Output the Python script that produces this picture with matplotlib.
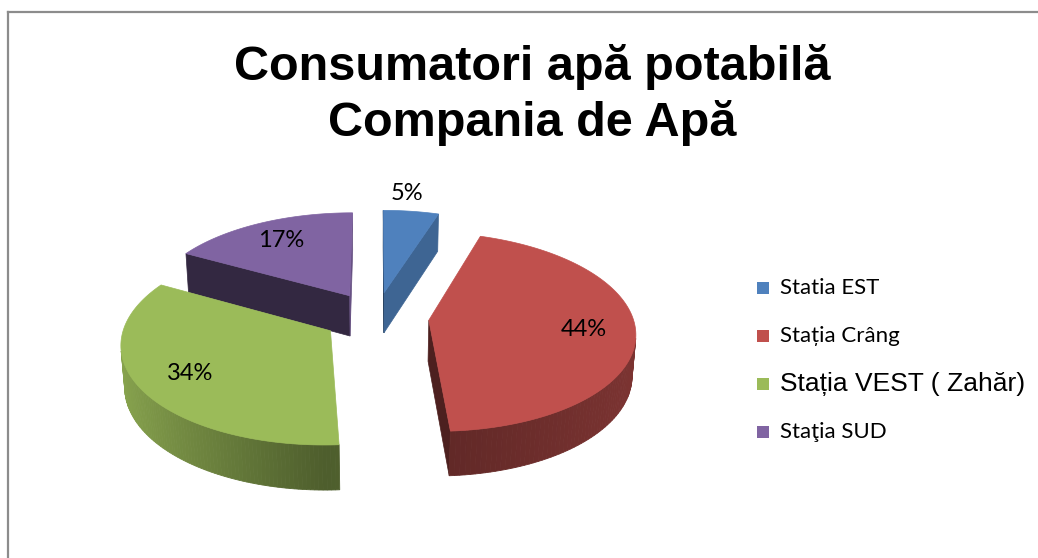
import numpy as np
import matplotlib
matplotlib.use('Agg')
import matplotlib.pyplot as plt
import matplotlib.colors as mcolors
from matplotlib.patches import Polygon, Rectangle
from matplotlib.lines import Line2D

# data
labels = ['Statia EST', 'Stația Crâng', 'Stația VEST ( Zahăr)', 'Staţia SUD']
values = [5, 44, 34, 17]
colors = ['#4F81BD', '#C0504D', '#9BBB59', '#8064A2']
title = 'Consumatori apă potabilă\nCompania de Apă'

# 3d look (tilt, camera distance, thickness, explosion)
EL = np.radians(28.5)
DIST = 7.5
H = 0.232
EXPLODE = 0.26
cam = np.array([0.0, -DIST * np.cos(EL), DIST * np.sin(EL)])


def project(x, y, z):
    depth = DIST + y * np.cos(EL) - z * np.sin(EL)
    k = DIST / depth
    return x * k, (y * np.sin(EL) + z * np.cos(EL)) * k


def shade(c, f):
    return tuple(np.clip(np.array(mcolors.to_rgb(c)) * f, 0, 1))


def visible(p, n):
    return np.dot(cam - np.array(p), np.array(n)) > 0


def quad(pts):
    return np.array([project(*p) for p in pts])


fig = plt.figure(figsize=(10.38, 5.58), dpi=100)
W, Hpx = 1038, 558

# pie axes, S px per unit radius
S = 204
x0, x1, y0, y1 = 90, 670, 160, 520
cx, cy = 376, 317
ax = fig.add_axes([x0 / W, 1 - y1 / Hpx, (x1 - x0) / W, (y1 - y0) / Hpx])
ax.set_xlim(-(cx - x0) / S, (x1 - cx) / S)
ax.set_ylim(-(y1 - cy) / S, (cy - y0) / S)
ax.axis('off')

total = sum(values)
start = 90.0
slices = []
for v, c in zip(values, colors):
    a1 = start
    a2 = start - v / total * 360
    start = a2
    mid = np.radians((a1 + a2) / 2)
    ox, oy = EXPLODE * np.cos(mid), EXPLODE * np.sin(mid)
    slices.append((a1, a2, mid, ox, oy, c, v))

# back to front
order = sorted(range(len(slices)), key=lambda i: -(slices[i][4] + 0.5 * np.sin(slices[i][2])))

for i in order:
    a1, a2, mid, ox, oy, c, v = slices[i]
    r1, r2 = np.radians(a1), np.radians(a2)
    # radial faces
    for r, n in [(r1, (-np.sin(r1), np.cos(r1), 0)), (r2, (np.sin(r2), -np.cos(r2), 0))]:
        if visible((ox, oy, -H / 2), n):
            f = 0.4 + 0.4 * max(0.0, n[0])
            pts = quad([(ox, oy, 0), (ox + np.cos(r), oy + np.sin(r), 0),
                        (ox + np.cos(r), oy + np.sin(r), -H), (ox, oy, -H)])
            ax.add_patch(Polygon(pts, closed=True, fc=shade(c, f), ec=shade(c, f), lw=0.5))
    # outer wall, shaded by direction
    t = np.radians(np.linspace(a1, a2, 120))
    for ta, tb in zip(t[:-1], t[1:]):
        tm = (ta + tb) / 2
        n = (np.cos(tm), np.sin(tm), 0)
        if not visible((ox + np.cos(tm), oy + np.sin(tm), -H / 2), n):
            continue
        ct = np.cos(tm)
        f = 0.5 + 0.38 * (-ct) if ct < 0 else 0.5 + 0.15 * ct
        pts = quad([(ox + np.cos(ta), oy + np.sin(ta), 0), (ox + np.cos(tb), oy + np.sin(tb), 0),
                    (ox + np.cos(tb), oy + np.sin(tb), -H), (ox + np.cos(ta), oy + np.sin(ta), -H)])
        ax.add_patch(Polygon(pts, closed=True, fc=shade(c, f), ec=shade(c, f), lw=0.6))
    # top face
    top = [(ox, oy, 0)] + [(ox + np.cos(a), oy + np.sin(a), 0) for a in t]
    ax.add_patch(Polygon(quad(top), closed=True, fc=c, ec=c, lw=0.5))

# percentage labels
for a1, a2, mid, ox, oy, c, v in slices:
    rr = 1.25 if v / total < 0.1 else 0.75
    lx, ly = project(ox + rr * np.cos(mid), oy + rr * np.sin(mid), 0)
    if v / total < 0.1:
        lx -= 0.05
    ax.text(lx, ly, f'{v / total:.0%}', ha='center', va='center', fontsize=17,
            family=['Lato', 'DejaVu Sans'], color='black')

# title
fig.text(532 / W, 1 - 95 / Hpx, title, ha='center', va='center', fontsize=35,
         fontweight='bold', family=['Liberation Sans', 'DejaVu Sans'], linespacing=1.28)

# legend
for k, (lab, c) in enumerate(zip(labels, colors)):
    y = 288 + 48 * k
    fig.add_artist(Rectangle((757 / W, 1 - (y + 6) / Hpx), 12 / W, 12 / Hpx,
                             transform=fig.transFigure, fc=c, ec='none'))
    if 'VEST' in lab:
        fig.text(780 / W, 1 - y / Hpx, lab, ha='left', va='center', fontsize=19,
                 family=['Liberation Sans', 'DejaVu Sans'])
    else:
        fig.text(780 / W, 1 - y / Hpx, lab, ha='left', va='center', fontsize=16,
                 family=['Lato', 'DejaVu Sans'])

# chart border (left and top)
fig.add_artist(Line2D([8 / W, 8 / W], [0, 1 - 12 / Hpx], transform=fig.transFigure,
                      color='#8c8c8c', lw=1.6))
fig.add_artist(Line2D([8 / W, 1], [1 - 12 / Hpx, 1 - 12 / Hpx], transform=fig.transFigure,
                      color='#8c8c8c', lw=1.6))

fig.savefig('out.png', dpi=100, facecolor='white')
